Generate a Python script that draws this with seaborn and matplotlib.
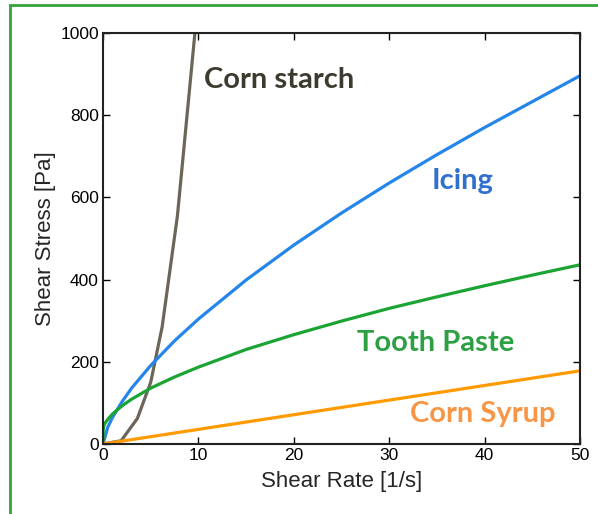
import numpy as np
import pandas as pd
import seaborn as sns
import matplotlib.pyplot as plt
from matplotlib.patches import Rectangle

# values
starch_rate = [0, 1.9, 3.6, 5.0, 6.2, 7.8, 9.8]
starch_stress = [0, 8, 62, 150, 285, 555, 1040]

icing_rate = [0, 0.5, 1, 2, 3, 5, 7.5, 10, 15, 20, 25, 30, 35, 40, 45, 50]
icing_stress = [0, 41, 65, 103, 136, 191, 251, 304, 399, 484, 562, 635, 704, 770, 833, 896]

paste_rate = [0, 0.02, 0.1, 0.25, 0.5, 1, 2, 3, 5, 7.5, 10, 15, 20, 25, 30, 35, 40, 45, 50]
paste_stress = [0, 33, 45, 52, 60, 73, 93, 109, 136, 163, 187, 230, 266, 299, 330, 358, 385, 411, 436]

syrup_rate = [0, 50]
syrup_stress = [0, 178]

sns.set_style("ticks")
plt.rcParams['font.family'] = ['Liberation Sans', 'DejaVu Sans']

fig = plt.figure(figsize=(5.98, 5.14), dpi=100)
ax = fig.add_axes([103/598, 1-444/514, 477/598, 411/514])

lw = 2.3
sns.lineplot(x=starch_rate, y=starch_stress, color='#6b6658', linewidth=lw, ax=ax)
sns.lineplot(x=icing_rate, y=icing_stress, color='#2485ea', linewidth=lw, ax=ax)
sns.lineplot(x=paste_rate, y=paste_stress, color='#1ba434', linewidth=lw, ax=ax)
sns.lineplot(x=syrup_rate, y=syrup_stress, color='#ff9a00', linewidth=lw, ax=ax)

ax.set_xlim(0, 50)
ax.set_ylim(0, 1000)
ax.set_xticks([0, 10, 20, 30, 40, 50])
ax.set_yticks([0, 200, 400, 600, 800, 1000])
ax.tick_params(direction='in', top=True, right=True, length=5, width=1,
               labelsize=12.5, pad=3, colors='black')
for s in ax.spines.values():
    s.set_linewidth(1.5)
    s.set_color('#222222')

ax.set_xlabel("Shear Rate [1/s]", fontsize=16, labelpad=6)
ax.set_ylabel("Shear Stress [Pa]", fontsize=16, labelpad=3)

lab = dict(fontsize=21, fontweight='bold', family=['Lato', 'DejaVu Sans'],
           ha='center', va='center')
ax.text(18.45, 886, "Corn starch", color='#3d3b2f', **lab)
ax.text(37.7, 641, "Icing", color='#2f6fcf', **lab)
ax.text(34.9, 246, "Tooth Paste", color='#2da044', **lab)
ax.text(39.8, 72, "Corn Syrup", color='#f79646', **lab)

fig.add_artist(Rectangle((10/598, -0.1), 1.2, 1 - 5/514 + 0.1,
                         transform=fig.transFigure, fill=False,
                         edgecolor='#33a33a', linewidth=2, clip_on=False))

fig.savefig("out.png", dpi=100)
